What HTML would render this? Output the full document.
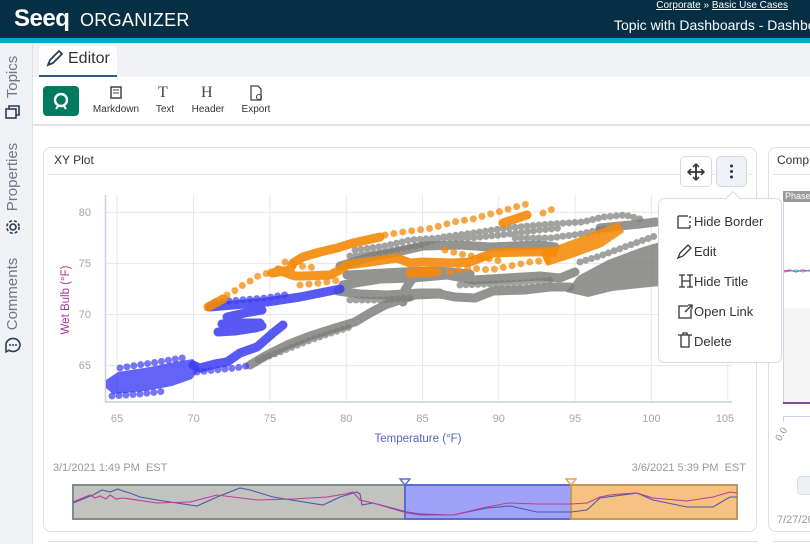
<!DOCTYPE html>
<html><head><meta charset="utf-8">
<style>
*{box-sizing:border-box;margin:0;padding:0}
html,body{width:810px;height:544px;overflow:hidden;background:#fff;font-family:"Liberation Sans",sans-serif;position:relative}
.abs{position:absolute}
.vt{position:absolute;transform:rotate(-90deg);transform-origin:center;text-align:center;font-size:15px;color:#6e7883;white-space:nowrap}
.tb{position:absolute;font-size:10px;color:#333;text-align:center}
.menu{position:absolute;left:658px;top:198px;width:124px;height:165px;background:#fff;border:1px solid #d9dcdf;border-radius:6px;z-index:5}
.mi{position:absolute;left:35px;font-size:13px;color:#333}
</style></head><body>
<!-- header -->
<div class="abs" style="left:0;top:0;width:810px;height:38px;background:#062f43"></div>
<div class="abs" style="left:0;top:38px;width:810px;height:5px;background:#02a6d8"></div>
<div class="abs" style="left:14px;top:5px;font-size:24px;font-weight:bold;color:#fff;letter-spacing:-0.5px">Seeq</div>
<div class="abs" style="left:80px;top:10px;font-size:18px;color:#fff;letter-spacing:0.3px">ORGANIZER</div>
<div class="abs" style="right:22px;top:0px;font-size:10px;color:#fff;white-space:nowrap"><u>Corporate</u> » <u>Basic Use Cases</u></div>
<div class="abs" style="left:614px;top:17px;font-size:14px;color:#fff;white-space:nowrap">Topic with Dashboards - Dashboard</div>
<!-- sidebar + tab strip -->
<div class="abs" style="left:0;top:43px;width:33px;height:501px;background:#f0f2f5;border-right:1px solid #dfe2e6"></div>
<div class="abs" style="left:33px;top:43px;width:777px;height:34px;background:#f0f2f5"></div>
<div class="vt" style="left:-27px;top:68px;width:80px;height:18px">Topics</div>
<div class="vt" style="left:-27px;top:168px;width:80px;height:18px">Properties</div>
<div class="vt" style="left:-27px;top:285px;width:80px;height:18px">Comments</div>
<!-- editor tab -->
<div class="abs" style="left:39px;top:46px;width:78px;height:31px;background:#fff;border-bottom:2px solid #2c5b8a;border-radius:4px 4px 0 0"></div>
<div class="abs" style="left:68px;top:50px;font-size:16px;color:#333">Editor</div>
<!-- toolbar -->
<div class="abs" style="left:33px;top:77px;width:777px;height:49px;background:#fff;border-bottom:2px solid #e3e5e8"></div>
<div class="abs" style="left:43px;top:86px;width:36px;height:30px;background:#007a5e;border-radius:4px"></div>
<div class="tb" style="left:90px;top:104px;width:52px">Markdown</div>
<div class="tb" style="left:150px;top:104px;width:30px">Text</div>
<div class="tb" style="left:188px;top:104px;width:40px">Header</div>
<div class="tb" style="left:236px;top:104px;width:40px">Export</div>
<div class="abs" style="left:158px;top:84px;font-family:'Liberation Serif',serif;font-size:16px;color:#444">T</div>
<div class="abs" style="left:201px;top:84px;font-family:'Liberation Serif',serif;font-size:16px;color:#444">H</div>
<!-- cards -->
<div class="abs" style="left:43px;top:147px;width:714px;height:385px;border:1px solid #dcdfe2;border-radius:8px"></div>
<div class="abs" style="left:48px;top:174px;width:704px;height:1px;background:#e4e6e8"></div>
<div class="abs" style="left:54px;top:153px;font-size:12px;color:#333">XY Plot</div>
<div class="abs" style="left:768px;top:147px;width:60px;height:385px;border:1px solid #dcdfe2;border-radius:8px"></div>
<div class="abs" style="left:773px;top:174px;width:40px;height:1px;background:#e4e6e8"></div>
<div class="abs" style="left:777px;top:153px;font-size:12px;color:#333">Comp</div>
<div class="abs" style="left:48px;top:541px;width:710px;height:1px;background:#dcdfe2"></div>
<div class="abs" style="left:773px;top:541px;width:40px;height:1px;background:#dcdfe2"></div>
<!-- right panel contents -->
<div class="abs" style="left:783px;top:191px;width:30px;height:11px;background:#9a9a9a;color:#fff;font-size:9px;line-height:11px;padding-left:2px">Phase</div>
<div class="abs" style="left:783px;top:308px;width:30px;height:95px;background:#f5f5f6"></div>
<div class="abs" style="left:783px;top:201px;width:1px;height:203px;background:#c9d3e3"></div>
<div class="abs" style="left:783px;top:402px;width:30px;height:2px;background:#8a4a9a"></div>
<div class="abs" style="left:783px;top:416px;width:30px;height:1px;background:#c9d3e3"></div>
<div class="abs" style="left:783px;top:416px;width:1px;height:6px;background:#c9d3e3"></div>
<div class="abs" style="left:775px;top:429px;font-size:10px;color:#999;transform:rotate(-60deg)">0.0</div>
<div class="abs" style="left:797px;top:476px;width:20px;height:19px;background:#eef1f4;border:1px solid #dde1e6;border-radius:4px"></div>
<div class="abs" style="left:777px;top:514px;font-size:11px;color:#999;white-space:nowrap">7/27/20</div>
<!-- timeline labels -->
<div class="abs" style="left:53px;top:462px;font-size:11px;color:#999;white-space:pre">3/1/2021 1:49 PM  EST</div>
<div class="abs" style="right:64px;top:462px;font-size:11px;color:#999;white-space:pre">3/6/2021 5:39 PM  EST</div>
<!-- buttons -->
<div class="abs" style="left:680px;top:156px;width:32px;height:31px;background:#fff;border:1px solid #d9dcdf;border-radius:5px"></div>
<div class="abs" style="left:716px;top:156px;width:31px;height:31px;background:#eef1f5;border:1px solid #d5dae0;border-radius:5px"></div>

<svg class="abs" style="left:0;top:0;z-index:2" width="810" height="544" viewBox="0 0 810 544">
<!-- sidebar icons -->
<g fill="none" stroke="#2a3f55" stroke-width="1.6">
<rect x="6" y="109" width="10" height="9"/><path d="M9 109v-3h10v9h-3"/>
<circle cx="13" cy="227" r="3"/><circle cx="13" cy="227" r="6.2" stroke-dasharray="3 2"/>
<path d="M6 345a7 6.5 0 1 1 3 5.3l-3 1.5z"/>
</g>
<g fill="#2a3f55"><circle cx="10" cy="345" r="1"/><circle cx="13" cy="345" r="1"/><circle cx="16" cy="345" r="1"/></g>
<!-- editor pencil -->
<path d="M48 65l2-5 9-9 3 3-9 9z" fill="none" stroke="#2c3e50" stroke-width="1.8"/>
<!-- green button icon -->
<circle cx="61" cy="100" r="6" fill="none" stroke="#fff" stroke-width="2.4"/>
<path d="M58 106l-2 3M64 106l2 3" stroke="#fff" stroke-width="2"/>
<!-- markdown icon -->
<rect x="111" y="87" width="10" height="11" fill="none" stroke="#444" stroke-width="1.5"/>
<path d="M113 90h6M113 93h6" stroke="#444" stroke-width="1"/>
<!-- export icon -->
<path d="M251 86h7l3 3v11h-10z" fill="none" stroke="#444" stroke-width="1.3"/>
<circle cx="259" cy="97" r="2.5" fill="none" stroke="#444" stroke-width="1"/>
<!-- move & dots icons -->
<path d="M696 165v14M689 172h14" stroke="#333" stroke-width="1.8"/>
<path d="M693 167l3-3 3 3M693 177l3 3 3-3M691 169l-3 3 3 3M701 169l3 3-3 3" fill="none" stroke="#333" stroke-width="1.5"/>
<g fill="#333"><circle cx="731.5" cy="166" r="1.5"/><circle cx="731.5" cy="171.5" r="1.5"/><circle cx="731.5" cy="177" r="1.5"/></g>

<!-- plot grid -->
<g stroke="#e6e7e9" stroke-width="1">
<line x1="117" y1="195" x2="117" y2="402"/><line x1="193.6" y1="195" x2="193.6" y2="402"/>
<line x1="270" y1="195" x2="270" y2="402"/><line x1="346.3" y1="195" x2="346.3" y2="402"/>
<line x1="422.5" y1="195" x2="422.5" y2="402"/><line x1="498.8" y1="195" x2="498.8" y2="402"/>
<line x1="575" y1="195" x2="575" y2="402"/><line x1="651.4" y1="195" x2="651.4" y2="402"/>
<line x1="727.7" y1="195" x2="727.7" y2="402"/>
<line x1="105" y1="212.3" x2="732" y2="212.3"/><line x1="105" y1="263.4" x2="732" y2="263.4"/>
<line x1="105" y1="314.5" x2="732" y2="314.5"/><line x1="105" y1="365.6" x2="732" y2="365.6"/>
</g>
<g stroke="#c6d2e4" stroke-width="1.5">
<line x1="105.5" y1="195" x2="105.5" y2="402"/><line x1="105" y1="402" x2="732" y2="402"/>
</g>
<g font-family="Liberation Sans, sans-serif" font-size="11" fill="#a6a6a6">
<g text-anchor="end"><text x="91" y="216">80</text><text x="91" y="267">75</text><text x="91" y="318">70</text><text x="91" y="369">65</text></g>
<g text-anchor="middle"><text x="117" y="422">65</text><text x="193.6" y="422">70</text><text x="270" y="422">75</text><text x="346.3" y="422">80</text><text x="422.5" y="422">85</text><text x="498.8" y="422">90</text><text x="575" y="422">95</text><text x="651.4" y="422">100</text><text x="725" y="422">105</text></g>
</g>
<text x="418" y="442" text-anchor="middle" font-family="Liberation Sans, sans-serif" font-size="11.5" fill="#5566b8">Temperature (°F)</text>
<text transform="translate(69,300) rotate(-90)" text-anchor="middle" font-family="Liberation Sans, sans-serif" font-size="11.5" fill="#a8359a">Wet Bulb (°F)</text>

<!-- gray data -->
<g fill="#7c7c7a" opacity="0.82">
<polygon points="566,292 578,276 608,260 640,248 660,242 660,286 640,288 612,291 588,297"/>
</g>
<g fill="none" stroke="#7c7c7a" stroke-width="9" stroke-linecap="round" stroke-linejoin="round" opacity="0.82">
<polyline points="250,365 267,355 287,345 310,336 335,328 355,322 370,313 385,305 400,300 415,295 440,294 455,297 475,298 493,291 525,290 550,287 570,287"/>
<polyline points="403,302 405,290 410,282 415,276"/>
<polyline points="338,291 360,294 387,295 420,293 440,293"/>
<polyline points="343,285 380,279 413,278 447,275 473,280 507,278 540,276 560,278 575,272"/>
<polyline points="347,275 403,272 437,271 470,274"/>
<polyline points="340,266 370,257 397,252 423,246 460,245 490,247 540,245 555,247"/>
<polyline points="600,228 620,226 640,224 656,222"/>
</g>
<g fill="none" stroke="#7c7c7a" stroke-width="7" stroke-linecap="round" stroke-dasharray="0 6" opacity="0.7">
<polyline points="258,360 280,352 300,344 325,335 350,327"/>
<polyline points="350,256 380,252 420,245 443,237 473,233 507,228 550,224 583,222 603,217 625,215 640,219"/>
<polyline points="355,250 385,246 410,240 440,238 470,238 500,235 540,230 560,228"/>
<polyline points="515,238 550,238 580,234 610,228"/>
<polyline points="580,262 600,256 630,245 655,236"/>
<polyline points="350,300 380,300 410,298"/>
<polyline points="460,285 490,284 520,283 550,280"/>
</g>
<!-- blue data -->
<g fill="#3c3cf2" opacity="0.8">
<polygon points="106,380 118,372 150,367 175,362 193,359 200,368 192,379 172,386 145,391 113,394 106,388"/>
</g>
<g fill="none" stroke="#3c3cf2" stroke-width="9" stroke-linecap="round" stroke-linejoin="round" opacity="0.85">
<polyline points="193,365 200,368 215,364 227,362 240,353 257,347 273,333 283,325"/>
<polyline points="227,317 245,313 262,310"/>
<polyline points="222,324 240,323 260,323"/>
<polyline points="218,332 235,331 255,328 262,326"/>
<polyline points="210,307 233,305 267,302 300,297 320,293 340,289"/>
</g>
<g fill="none" stroke="#3c3cf2" stroke-width="7" stroke-linecap="round" stroke-dasharray="0 7" opacity="0.7">
<polyline points="112,396 140,394 165,391"/>
<polyline points="197,372 215,370 235,368 252,365"/>
<polyline points="120,368 145,364 170,360 188,357"/>
<polyline points="215,302 240,300 265,298 290,294"/>
</g>
<!-- orange data -->
<g fill="#f58a07" opacity="0.88">
<polygon points="540,252 575,239 619,222 624,232 602,247 572,258 547,266"/>
</g>
<g fill="none" stroke="#f58a07" stroke-width="9" stroke-linecap="round" stroke-linejoin="round" opacity="0.9">
<polyline points="208,307 223,299"/>
<polyline points="272,273 290,270 293,263 303,257 320,252 337,248 353,243 380,237"/>
<polyline points="278,270 295,276 303,276 330,275 340,270 347,265 370,262 397,258 410,263 423,262 453,263 470,262 493,253 527,252 553,252"/>
<polyline points="410,273 437,272"/>
<polyline points="503,223 515,219 527,215"/>
</g>
<g fill="none" stroke="#f58a07" stroke-width="7" stroke-linecap="round" stroke-dasharray="0 9" opacity="0.75">
<polyline points="227,295 236,290 243,285 252,280 258,276 268,273"/>
<polyline points="385,235 403,232 418,230 433,228 443,225 453,222 473,219 490,214 502,211 522,205 532,203"/>
<polyline points="543,213 553,209 558,207"/>
<polyline points="300,285 320,283 340,280"/>
<polyline points="450,272 470,268 490,270 510,266 530,262 550,260"/>
<polyline points="445,250 465,255 485,258 505,262"/>
<polyline points="285,262 300,266 318,268"/>
</g>

<!-- timeline -->
<rect x="73" y="485" width="332" height="34" fill="#c2c2bf" stroke="#7d8e8b" stroke-width="2"/>
<rect x="405" y="485" width="166" height="34" fill="#9fa2f6" stroke="#5b6bd6" stroke-width="2"/>
<rect x="571" y="485" width="166" height="34" fill="#f6c282" stroke="#be9a5c" stroke-width="2"/>
<polyline fill="none" stroke="#4a5aa8" stroke-width="1.1" points="73,503 93,495 102,490 110,492 118,489 123,491 130,493 140,497 157,500 197,506 217,497 240,488 250,490 273,497 323,505 340,497 357,492 360,494 362,505 373,503 407,512 420,514 453,515 487,508 510,506 537,512 571,512 587,510 600,498 637,493 653,500 687,507 713,507 730,497 737,497"/>
<polyline fill="none" stroke="#c03a9a" stroke-width="1.1" points="73,502 90,495 95,498 100,496 106,499 110,495 116,499 123,498 157,503 190,502 217,495 257,500 293,499 327,497 345,494 353,492 360,500 373,503 407,513 420,515 453,515 487,507 508,503 537,504 571,504 587,503 600,497 610,495 620,494 637,493 653,498 687,501 713,497 730,492 737,493"/>
<path d="M400 479h10l-5 6z" fill="#fff" stroke="#5b6bd6" stroke-width="1.4"/>
<path d="M566 479h10l-5 6z" fill="#fff" stroke="#e9a14a" stroke-width="1.4"/>
<!-- right panel line -->
<polyline fill="none" stroke="#d04a9a" stroke-width="1.2" points="784,271 790,270 796,272 802,270 810,271"/>
<polyline fill="none" stroke="#3ab0d8" stroke-width="1" points="784,272 791,271 797,270 803,272 810,270"/>
</svg>

<div class="menu">
<svg class="abs" style="left:66px;top:-8px" width="16" height="9"><path d="M0 8.5L8 0.5L16 8.5" fill="#fff" stroke="#d9dcdf"/></svg>
<svg class="abs" style="left:0;top:0" width="124" height="165">
<g fill="none" stroke="#333" stroke-width="1.3">
<path d="M19 17v12h12M19 17h10" /><path d="M31 17v2M31 22v2M31 26v3" />
<path d="M19 59l2-5 8-8 3 3-8 8z"/>
<path d="M20 76h6M23 76v12M20 88h6M28 76h6M31 76v12M28 88h6M23 82h8"/>
<path d="M29 107h-9v12h12v-9M26 113l7-7M29 106h4v4"/>
<path d="M19 136h14M22 136v12h8v-12M24 136v-2h4v2"/>
</g>
</svg>
<div class="mi" style="top:15px">Hide Border</div>
<div class="mi" style="top:45px">Edit</div>
<div class="mi" style="top:75px">Hide Title</div>
<div class="mi" style="top:105px">Open Link</div>
<div class="mi" style="top:135px">Delete</div>
</div>
</body></html>
